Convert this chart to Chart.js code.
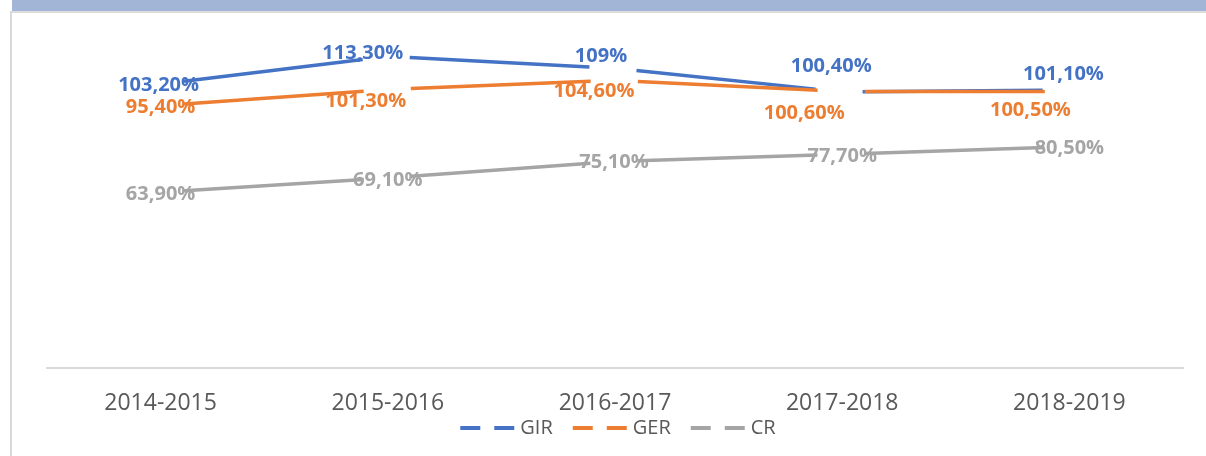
<!DOCTYPE html>
<html>
<head>
<meta charset="utf-8">
<script src="https://cdn.jsdelivr.net/npm/chart.js@4.4.1/dist/chart.umd.min.js"></script>
<style>
  html, body { margin: 0; padding: 0; background: #fff; }
  #wrap { position: relative; width: 1206px; height: 456px; overflow: hidden; }
  #band { position: absolute; left: 12px; top: 0; width: 1194px; height: 11px; background: #a3b5d6; }
  #rule { position: absolute; left: 10px; top: 11px; width: 1196px; height: 2px; background: #dcdcdc; }
  #side { position: absolute; left: 10px; top: 11px; width: 2px; height: 445px; background: #d9d9d9; }
  canvas { position: absolute; left: 0; top: 0; }
</style>
</head>
<body>
<div id="wrap">
  <div id="band"></div><div id="rule"></div><div id="side"></div>
  <canvas id="myChart" width="1206" height="456"></canvas>
</div>
<script>
// du lieu
const years = ["2014-2015", "2015-2016", "2016-2017", "2017-2018", "2018-2019"];
const gir = [103.2, 113.3, 109, 100.4, 101.1];
const ger = [95.4, 101.3, 104.6, 100.6, 100.5];
const cr = [63.9, 69.1, 75.1, 77.7, 80.5];
const names = ["GIR", "GER", "CR"];
const colors = ["#4472C4", "#ED7D31", "#A5A5A5"];

// label nudges (px) relative to each point
const nudges = [
  [[-2, 1], [-25, -3], [-14, -12], [-11, -26], [-6, -16]],
  [[0, 2], [-22, 12], [-21, 11], [-38, 22], [-39, 19]],
  [[0, 2], [0, 2], [-1, 1], [0, 2], [0, 2]]
];

function fmt(v) {
  return (Number.isInteger(v) ? String(v) : v.toFixed(2).replace(".", ",")) + "%";
}

const valueLabels = {
  id: "valueLabels",
  afterDatasetsDraw(chart) {
    const ctx = chart.ctx;
    ctx.save();
    ctx.font = "bold 20px 'Open Sans'";
    ctx.textAlign = "center";
    ctx.textBaseline = "middle";
    chart.data.datasets.forEach((ds, i) => {
      const meta = chart.getDatasetMeta(i);
      ctx.fillStyle = colors[i];
      meta.data.forEach((pt, j) => {
        const n = nudges[i][j];
        ctx.fillText(fmt(ds.data[j]), pt.x + n[0], pt.y + n[1]);
      });
    });
    ctx.restore();
  }
};

const dashLegend = {
  id: "dashLegend",
  afterDraw(chart) {
    const ctx = chart.ctx;
    ctx.save();
    ctx.font = "20px 'Open Sans'";
    ctx.textBaseline = "middle";
    const sample = 54, gap = 6, space = 20;
    const widths = names.map(n => sample + gap + ctx.measureText(n).width);
    const total = widths.reduce((a, b) => a + b, 0) + space * (names.length - 1);
    let x = 618 - total / 2;
    const y = 428;
    names.forEach((n, i) => {
      ctx.strokeStyle = colors[i];
      ctx.lineWidth = 4;
      ctx.setLineDash([20, 14]);
      ctx.beginPath();
      ctx.moveTo(x, y);
      ctx.lineTo(x + sample, y);
      ctx.stroke();
      ctx.setLineDash([]);
      ctx.fillStyle = "#595959";
      ctx.fillText(n, x + sample + gap, y);
      x += widths[i] + space;
    });
    ctx.restore();
  }
};

const series = [gir, ger, cr];
const ctx = document.getElementById("myChart").getContext("2d");
new Chart(ctx, {
  type: "line",
  data: {
    labels: years,
    datasets: series.map((d, i) => ({
      label: names[i],
      data: d,
      borderColor: colors[i],
      backgroundColor: colors[i],
      borderWidth: 3.5,
      borderDash: [180, 47.2],
      borderDashOffset: 203.6,
      pointRadius: 0,
      tension: 0,
      order: [1, 0, 2][i]
    }))
  },
  options: {
    responsive: false,
    animation: false,
    layout: { padding: { left: 47, right: 23, top: 38, bottom: 0 } },
    plugins: {
      legend: { display: false },
      tooltip: { enabled: false }
    },
    scales: {
      x: {
        offset: true,
        grid: { display: false, drawTicks: false },
        border: { display: true, color: "#d9d9d9", width: 2 },
        ticks: {
          color: "#595959",
          font: { family: "'Open Sans'", size: 23 },
          padding: 22,
          maxRotation: 0
        },
        afterFit(s) { s.height = 88; }
      },
      y: {
        display: false,
        min: 0,
        max: 120
      }
    }
  },
  plugins: [valueLabels, dashLegend]
});
</script>
</body>
</html>
